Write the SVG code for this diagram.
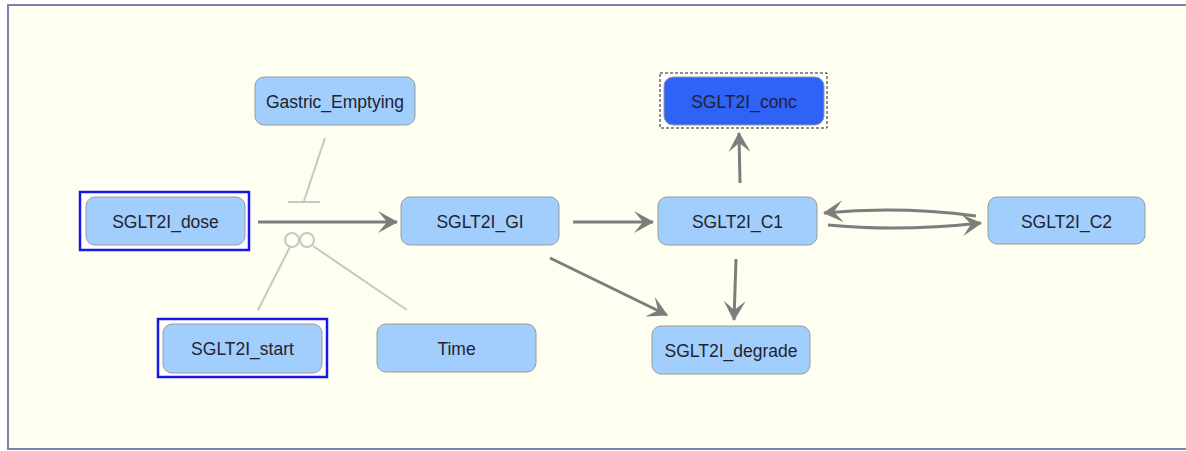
<svg xmlns="http://www.w3.org/2000/svg" width="1186" height="451" viewBox="0 0 1186 451">
  <defs>
    <marker id="arrow" viewBox="0 0 20 22" refX="19" refY="11" markerWidth="20" markerHeight="22" markerUnits="userSpaceOnUse" orient="auto">
      <path d="M0,0 L20,11 L0,22 L9,11 Z" fill="#7d7d7d"/>
    </marker>
    <style>
      .node rect.box { fill: #a1cefc; stroke: #9a9a9a; stroke-width: 1; }
      .node rect.box.active { fill: #2f62f6; }
      .node text { font-family: "Liberation Sans", Arial, sans-serif; font-size: 17.5px; fill: #23232f; text-anchor: middle; }
      .sel { fill: #ffffff; stroke: #1818e8; stroke-width: 2.5; }
      .focus { fill: #ffffff; stroke: #222222; stroke-width: 1; stroke-dasharray: 3 2; }
      .flow { fill: none; stroke: #7d7d7d; stroke-width: 3; marker-end: url(#arrow); }
      .mod { fill: none; stroke: #c6c6c6; stroke-width: 2; }
    </style>
  </defs>

  <!-- canvas and frame -->
  <rect x="0" y="0" width="1186" height="451" fill="#ffffff"/>
  <rect x="8" y="5" width="1190" height="444" fill="#fefff0" stroke="#7a82aa" stroke-width="2"/>

  <!-- connectors -->
  <g id="connectors">
    <path class="flow" d="M258,222 L397,222"/>
    <path class="flow" d="M573,222 L653,222"/>
    <path class="flow" d="M550,258 L667,315"/>
    <path class="flow" d="M736,259 L734,320"/>
    <path class="flow" d="M740,183 L739,133"/>
    <path class="flow" d="M976,216 Q900,206 824,213" stroke-width="2.5"/>
    <path class="flow" d="M828,225 Q900,232 981,223" stroke-width="2.5"/>
    <!-- gastric emptying inhibition -->
    <path class="mod" d="M325,138 L304,201"/>
    <path class="mod" d="M288,202 L320,202" stroke-width="2.5"/>
    <!-- start / time modifiers -->
    <circle class="mod" cx="292" cy="240" r="7" fill="#fefff0"/>
    <circle class="mod" cx="307" cy="240" r="7" fill="#fefff0"/>
    <path class="mod" d="M290,247 L258,310"/>
    <path class="mod" d="M313,246 L407,310"/>
  </g>

  <g id="SGLT2I_dose" class="node">
    <rect class="sel" x="80" y="192" width="169" height="58"/>
    <rect class="box" x="86" y="197" width="159" height="48" rx="9"/>
    <text x="165.5" y="228">SGLT2I_dose</text>
  </g>

  <g id="Gastric_Emptying" class="node">
    <rect class="box" x="255" y="77" width="160" height="48" rx="9"/>
    <text x="335" y="108">Gastric_Emptying</text>
  </g>

  <g id="SGLT2I_start" class="node">
    <rect class="sel" x="158" y="319" width="169" height="58"/>
    <rect class="box" x="163" y="324" width="159" height="49" rx="9"/>
    <text x="242.5" y="355">SGLT2I_start</text>
  </g>

  <g id="Time" class="node">
    <rect class="box" x="377" y="324" width="159" height="48" rx="9"/>
    <text x="456.5" y="354.5">Time</text>
  </g>

  <g id="SGLT2I_GI" class="node">
    <rect class="box" x="401" y="197" width="158" height="48" rx="9"/>
    <text x="480" y="228">SGLT2I_GI</text>
  </g>

  <g id="SGLT2I_C1" class="node">
    <rect class="box" x="658" y="197" width="159" height="48" rx="9"/>
    <text x="737.5" y="228">SGLT2I_C1</text>
  </g>

  <g id="SGLT2I_C2" class="node">
    <rect class="box" x="988" y="197" width="157" height="47" rx="9"/>
    <text x="1066.5" y="228">SGLT2I_C2</text>
  </g>

  <g id="SGLT2I_degrade" class="node">
    <rect class="box" x="652" y="326" width="158" height="48" rx="9"/>
    <text x="731" y="356.5">SGLT2I_degrade</text>
  </g>

  <g id="SGLT2I_conc" class="node">
    <rect class="focus" x="660" y="73" width="167" height="55"/>
    <rect class="box active" x="664" y="77" width="160" height="48" rx="9"/>
    <text x="744" y="107.5">SGLT2I_conc</text>
  </g>
</svg>
